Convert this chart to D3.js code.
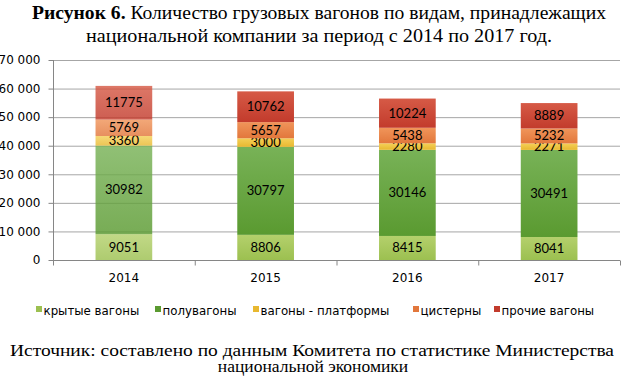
<!DOCTYPE html>
<html><head><meta charset="utf-8">
<script src="https://cdn.jsdelivr.net/npm/d3@7"></script>
<style>body{margin:0;background:#fff}svg{display:block}</style>
</head><body>
<svg id="c" width="624" height="376"></svg>
<script>
const years = ["2014","2015","2016","2017"];
const seriesNames = ["крытые вагоны","полувагоны","вагоны - платформы","цистерны","прочие вагоны"];
const krytye = [9051, 8806, 8415, 8041];
const poluvagony = [30982, 30797, 30146, 30491];
const platformy = [3360, 3000, 2280, 2271];
const cisterny = [5769, 5657, 5438, 5232];
const prochie = [11775, 10762, 10224, 8889];
const yTicks = [0,10000,20000,30000,40000,50000,60000,70000];
const colors = [["#b4d06c","#9cc050"],["#78b257","#5a9a30"],["#f4d058","#e8b830"],["#f0955a","#e2773c"],["#d65a46","#c23b2c"]];

(function(){
const svg = d3.select("#c");
const defs = svg.append("defs");
colors.forEach((c,i)=>{
  const g = defs.append("linearGradient").attr("id","g"+i).attr("x1",0).attr("y1",0).attr("x2",0).attr("y2",1);
  g.append("stop").attr("offset","0%").attr("stop-color",c[0]);
  g.append("stop").attr("offset","100%").attr("stop-color",c[1]);
});

const rows = years.map((y,i)=>({year:y, s0:krytye[i], s1:poluvagony[i], s2:platformy[i], s3:cisterny[i], s4:prochie[i]}));
const keys = ["s0","s1","s2","s3","s4"];
const stack = d3.stack().keys(keys)(rows);

const pL = 53, pR = 620, pT = 60, pB = 260;
const x = d3.scaleBand().domain(years).range([pL,pR]).paddingInner(0.6).paddingOuter(0.3);
const xb = d3.scaleBand().domain(years).range([pL,pR]);
const y = d3.scaleLinear().domain([0,70000]).range([pB,pT]);

const fmt = v => d3.format(",")(v).replace(/,/g," ");
const sans = "'DejaVu Sans', Verdana, sans-serif";
const lab = "Lato, 'Open Sans', sans-serif";

svg.append("g").selectAll("line").data(yTicks.slice(1)).join("line")
  .attr("x1",pL).attr("x2",pR).attr("y1",d=>y(d)+0.5).attr("y2",d=>y(d)+0.5)
  .attr("stroke","#a6a6a6").attr("stroke-width",1);

const ya = svg.append("g").attr("transform",`translate(${pL+0.5},0)`)
  .call(d3.axisLeft(y).tickValues(yTicks).tickFormat(fmt).tickSize(5).tickPadding(8));
ya.select(".domain").attr("stroke","#868686").attr("d",`M0,${pT}V${pB+0.5}`);
ya.selectAll(".tick line").attr("stroke","#868686");
ya.selectAll("text").attr("font-family",sans).attr("font-size",12).attr("fill","#000");

const xa = svg.append("g").attr("transform",`translate(0,${pB+0.5})`);
xa.append("line").attr("x1",pL).attr("x2",pR).attr("stroke","#868686");
xa.selectAll("line.t").data(years.concat(["end"])).join("line").attr("class","t")
  .attr("x1",(d,i)=>pL+i*xb.step()+0.5).attr("x2",(d,i)=>pL+i*xb.step()+0.5)
  .attr("y1",0).attr("y2",5).attr("stroke","#868686");
xa.selectAll("text").data(years).join("text")
  .attr("x",d=>xb(d)+xb.bandwidth()/2).attr("y",21).attr("text-anchor","middle")
  .attr("font-family",sans).attr("font-size",12).attr("fill","#000").text(d=>d);

stack.forEach((layer,li)=>{
  const g = svg.append("g");
  g.selectAll("rect").data(layer).join("rect")
    .attr("x",d=>x(d.data.year)).attr("width",x.bandwidth())
    .attr("y",d=>y(d[1])).attr("height",d=>y(d[0])-y(d[1]))
    .attr("fill",`url(#g${li})`).attr("opacity",(d)=>d.data.year==="2014"?0.82:1);
  g.selectAll("text").data(layer).join("text")
    .attr("x",d=>x(d.data.year)+x.bandwidth()/2)
    .attr("y",d=>(y(d[0])+y(d[1]))/2+4.5)
    .attr("text-anchor","middle")
    .attr("font-family",lab).attr("font-size",13).attr("fill","#000")
    .text(d=>d.data[keys[li]]);
});

const serif = "'Liberation Serif','Times New Roman',serif";
const t1 = svg.append("text").attr("x",319).attr("y",19).attr("text-anchor","middle")
  .attr("font-family",serif).attr("font-size",19.5).attr("fill","#000")
  .attr("textLength",574).attr("lengthAdjust","spacingAndGlyphs");
t1.append("tspan").attr("font-weight","bold").text("Рисунок 6.");
t1.append("tspan").text(" Количество грузовых вагонов по видам, принадлежащих");
svg.append("text").attr("x",319).attr("y",42).attr("text-anchor","middle")
  .attr("font-family",serif).attr("font-size",19.5).attr("fill","#000")
  .attr("textLength",466).attr("lengthAdjust","spacingAndGlyphs")
  .text("национальной компании за период с 2014 по 2017 год.");

const legX = [36, 155, 253, 413, 494];
const lg = svg.append("g");
seriesNames.forEach((n,i)=>{
  lg.append("rect").attr("x",legX[i]).attr("y",306).attr("width",6).attr("height",6).attr("fill",colors[i][1]);
  lg.append("text").attr("x",legX[i]+7.5).attr("y",315).attr("font-family",sans)
    .attr("font-size",11.8).attr("fill","#000").text(n);
});

svg.append("text").attr("x",312).attr("y",356).attr("text-anchor","middle")
  .attr("font-family",serif).attr("font-size",17.5).attr("fill","#000")
  .attr("textLength",604).attr("lengthAdjust","spacingAndGlyphs")
  .text("Источник: составлено по данным Комитета по статистике Министерства");
svg.append("text").attr("x",313).attr("y",372).attr("text-anchor","middle")
  .attr("font-family",serif).attr("font-size",17.5).attr("fill","#000")
  .text("национальной экономики");
})();
</script>
</body></html>
